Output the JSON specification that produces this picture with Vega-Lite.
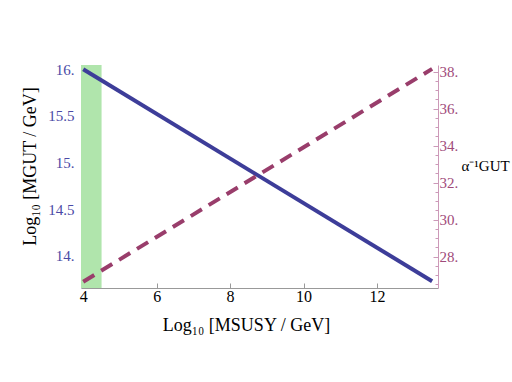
{
  "$schema": "https://vega.github.io/schema/vega-lite/v6.json",
  "width": 357,
  "height": 223,
  "autosize": {"type": "none"},
  "padding": {"left": 81, "top": 65, "right": 74, "bottom": 94},
  "background": "white",
  "config": {
    "view": {"stroke": null},
    "font": "Liberation Serif",
    "axis": {"grid": false, "labelFont": "Liberation Serif", "titleFont": "Liberation Serif", "titleFontWeight": "normal", "labelOverlap": false, "labelBound": false, "labelFlush": false}
  },
  "datasets": {
    "band": [{"start": 3.94, "end": 4.5}],
    "mgut": [{"logMSUSY": 4, "logMGUT": 16.0}, {"logMSUSY": 13.5, "logMGUT": 13.73}],
    "alpha": [{"logMSUSY": 4, "alphaInv": 26.65}, {"logMSUSY": 13.5, "alphaInv": 38.15}]
  },
  "layer": [
    {
      "data": {"name": "band"},
      "mark": {"type": "rect", "color": "#b0e5ac"},
      "encoding": {
        "x": {
          "field": "start", "type": "quantitative",
          "scale": {"domain": [3.94, 13.66], "nice": false, "zero": false},
          "axis": {
            "orient": "bottom",
            "title": "Log₁₀ [MSUSY / GeV]",
            "values": [4, 4.5, 5, 5.5, 6, 6.5, 7, 7.5, 8, 8.5, 9, 9.5, 10, 10.5, 11, 11.5, 12, 12.5, 13, 13.5],
            "labelExpr": "datum.value % 2 == 0 ? format(datum.value, 'd') : ''",
            "tickSize": {"condition": {"test": "datum.value % 2 != 0", "value": -3}, "value": -5},
            "tickColor": "#999999",
            "domainColor": "#999999",
            "labelColor": "#000000",
            "labelFontSize": 16,
            "labelPadding": 5,
            "titleFontSize": 18,
            "titleColor": "#000000",
            "titleX": 165,
            "titleY": 42,
            "titleBaseline": "alphabetic",
            "titleAlign": "center"
          }
        },
        "x2": {"field": "end"}
      }
    },
    {
      "data": {"name": "mgut"},
      "mark": {"type": "line", "color": "#3d3d99", "strokeWidth": 4},
      "encoding": {
        "x": {"field": "logMSUSY", "type": "quantitative"},
        "y": {
          "field": "logMGUT", "type": "quantitative",
          "scale": {"domain": [13.657, 16.046], "nice": false, "zero": false},
          "axis": {
            "orient": "left",
            "title": "Log₁₀ [MGUT / GeV]",
            "values": [13.7, 13.8, 13.9, 14.0, 14.1, 14.2, 14.3, 14.4, 14.5, 14.6, 14.7, 14.8, 14.9, 15.0, 15.1, 15.2, 15.3, 15.4, 15.5, 15.6, 15.7, 15.8, 15.9, 16.0],
            "labelExpr": "abs(datum.value*2 - round(datum.value*2)) < 0.000001 ? (abs(datum.value - round(datum.value)) < 0.000001 ? format(datum.value, 'd') + '.' : format(datum.value, '.1f')) : ''",
            "tickSize": {"condition": {"test": "abs(datum.value*2 - round(datum.value*2)) > 0.000001", "value": -3}, "value": -5},
            "tickColor": "#a8a8d4",
            "domainColor": "#a8a8d4",
            "labelColor": "#4a4aa6",
            "labelFontSize": 15,
            "labelPadding": 12,
            "titleFontSize": 18,
            "titleColor": "#000000",
            "titleAngle": -90,
            "titleX": -51,
            "titleY": 101,
            "titleAlign": "center",
            "titleBaseline": "middle"
          }
        }
      }
    },
    {
      "data": {"name": "alpha"},
      "mark": {"type": "line", "color": "#993d6b", "strokeWidth": 4, "strokeDash": [13, 8]},
      "encoding": {
        "x": {"field": "logMSUSY", "type": "quantitative"},
        "y": {
          "field": "alphaInv", "type": "quantitative",
          "scale": {"domain": [26.31, 38.36], "nice": false, "zero": false},
          "axis": {
            "orient": "right",
            "title": "α⁻¹GUT",
            "values": [26.5, 27, 27.5, 28, 28.5, 29, 29.5, 30, 30.5, 31, 31.5, 32, 32.5, 33, 33.5, 34, 34.5, 35, 35.5, 36, 36.5, 37, 37.5, 38],
            "labelExpr": "datum.value % 2 == 0 ? format(datum.value, 'd') + '.' : ''",
            "tickSize": {"condition": {"test": "datum.value % 2 != 0", "value": -3}, "value": -5},
            "tickColor": "#cc99b8",
            "domainColor": "#cc99b8",
            "labelColor": "#a04a7a",
            "labelFontSize": 15,
            "labelPadding": 6,
            "titleFontSize": 15,
            "titleColor": "#000000",
            "titleAngle": 0,
            "titleX": 23,
            "titleY": 100,
            "titleAlign": "left",
            "titleBaseline": "middle"
          }
        }
      }
    }
  ],
  "resolve": {"scale": {"y": "independent"}}
}
